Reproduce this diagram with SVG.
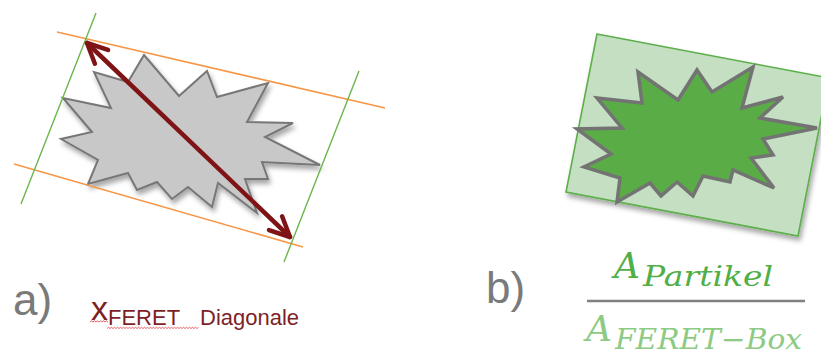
<svg xmlns="http://www.w3.org/2000/svg" width="821" height="354" viewBox="0 0 821 354">
<style>
.orange{stroke:#F79646;stroke-width:1.6;fill:none}
.green{stroke:#6AB64C;stroke-width:1.4;fill:none}
.label{font-family:"Liberation Sans",Arial,sans-serif;font-size:44px;fill:#7A7A7A}
.red{font-family:"Liberation Sans",Arial,sans-serif;fill:#7E1F26}
.math{font-family:"DejaVu Serif",serif;font-style:italic}
.squig{stroke:#E0393E;stroke-width:0.8;fill:none}
</style>
<defs>
<filter id="shadow" x="-20%" y="-20%" width="140%" height="150%">
<feDropShadow dx="2" dy="4" stdDeviation="2.5" flood-color="#000" flood-opacity="0.35"/>
</filter>
<marker id="chev" markerUnits="userSpaceOnUse" viewBox="-26 -14 30 28" markerWidth="30" markerHeight="28" refX="0" refY="0" orient="auto-start-reverse">
<path d="M-20,-9.5 L0,0 L-20,9.5" fill="none" stroke="#7E1416" stroke-width="4.5" stroke-linecap="round" stroke-linejoin="round"/>
</marker>
</defs>

<g id="panel-a-particle">
<polygon filter="url(#shadow)" fill="#C8C8C8" stroke="#777777" stroke-width="2" stroke-linejoin="miter" points="144,55 179,96 207,71 217,97 268,83 247,122 293,123 265,137 320,165 262,162 268,179 245,179 257,213 218,183 212,207 188,187 172,199 157,182 137,190 128,173 88,184 98,160 61,139 92,132 63,98 111,108 94,72 128,82"/>
</g>

<g id="connectors">
<line class="orange" x1="57" y1="32" x2="385" y2="108"/>
<line class="orange" x1="14" y1="164" x2="303" y2="247"/>
<line class="green" x1="96" y1="13" x2="21" y2="204"/>
<line class="green" x1="359" y1="71" x2="284" y2="262"/>
<line id="feret-diagonal" x1="87" y1="43" x2="290" y2="237" stroke="#7E1416" stroke-width="4.5" stroke-linecap="round" marker-start="url(#chev)" marker-end="url(#chev)"/>
</g>

<g id="label-a">
<text class="label" x="13" y="315">a)</text>
<text class="red" x="91" y="320" font-size="34">x</text>
<text class="red" x="108" y="325" font-size="22">FERET<tspan x="200">Diagonale</tspan></text>
<path class="squig" d="M90,322 l1.5,-1.2 l1.5,1.2 l1.5,-1.2 l1.5,1.2 l1.5,-1.2 l1.5,1.2 l1.5,-1.2 l1.5,1.2 l1.5,-1.2 l1.5,1.2 l1.5,-1.2 l1.5,1.2"/>
<path class="squig" d="M107,328.5 l1.5,-1.2 l1.5,1.2 l1.5,-1.2 l1.5,1.2 l1.5,-1.2 l1.5,1.2 l1.5,-1.2 l1.5,1.2 l1.5,-1.2 l1.5,1.2 l1.5,-1.2 l1.5,1.2 l1.5,-1.2 l1.5,1.2 l1.5,-1.2 l1.5,1.2 l1.5,-1.2 l1.5,1.2 l1.5,-1.2 l1.5,1.2 l1.5,-1.2 l1.5,1.2 l1.5,-1.2 l1.5,1.2 l1.5,-1.2 l1.5,1.2 l1.5,-1.2 l1.5,1.2 l1.5,-1.2 l1.5,1.2 l1.5,-1.2 l1.5,1.2 l1.5,-1.2 l1.5,1.2 l1.5,-1.2 l1.5,1.2 l1.5,-1.2 l1.5,1.2 l1.5,-1.2 l1.5,1.2 l1.5,-1.2 l1.5,1.2 l1.5,-1.2 l1.5,1.2 l1.5,-1.2 l1.5,1.2 l1.5,-1.2 l1.5,1.2 l1.5,-1.2 l1.5,1.2 l1.5,-1.2 l1.5,1.2 l1.5,-1.2 l1.5,1.2 l1.5,-1.2 l1.5,1.2 l1.5,-1.2 l1.5,1.2 l1.5,-1.2 l1.5,1.2 l1.5,-1.2"/>
</g>

<g id="panel-b-box">
<polygon filter="url(#shadow)" fill="#C5DFC3" stroke="#5BAF4A" stroke-width="1.6" points="597,34 829,78 798,236 566,192"/>
</g>

<g id="panel-b-particle">
<polygon fill="#5AAD46" stroke="#737373" stroke-width="3.5" stroke-linejoin="miter" points="638,72 642,103 597,98 622,128 577,129 611,154 584,167 620,178 617,202 650,183 661,196 677,182 693,196 703,176 730,182 733,170 774,188 751,158 773,155 763,139 817,128 760,118 783,97 742,108 753,67 712,92 697,70 678,100"/>
</g>

<g id="label-b">
<text class="label" x="486" y="303">b)</text>
<text class="math" x="614" y="278" font-size="36" fill="#52AE46">A</text>
<text class="math" x="643" y="286" font-size="28" fill="#52AE46" textLength="130" lengthAdjust="spacingAndGlyphs">Partikel</text>
<line x1="587" y1="301" x2="805" y2="301" stroke="#7F7F7F" stroke-width="2.5"/>
<text class="math" x="586" y="341" font-size="36" fill="#8DCB85">A</text>
<text class="math" x="615" y="349" font-size="28" fill="#8DCB85" textLength="187" lengthAdjust="spacingAndGlyphs">FERET−Box</text>
</g>
</svg>
